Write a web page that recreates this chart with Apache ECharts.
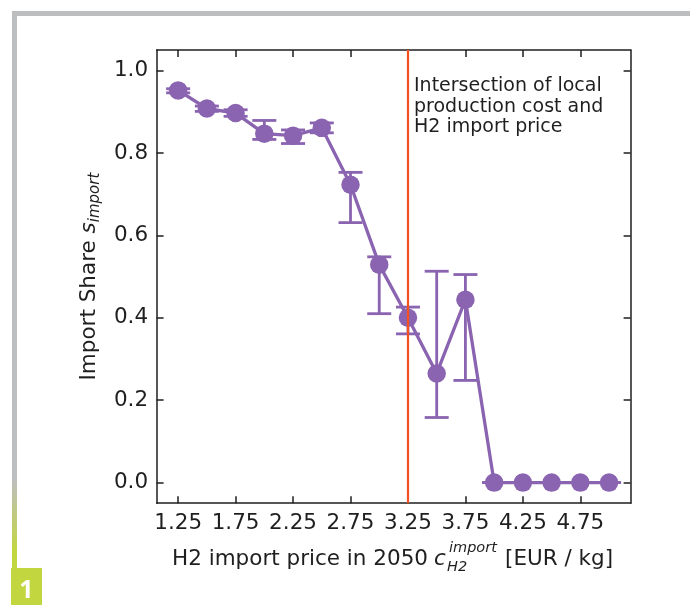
<!DOCTYPE html>
<html>
<head>
<meta charset="utf-8">
<script src="https://cdn.jsdelivr.net/npm/echarts@6/dist/echarts.min.js"></script>
<style>
html,body{margin:0;padding:0;background:#fff;}
#chart{width:690px;height:605px;}
</style>
</head>
<body>
<div id="chart"></div>
<script>
const xValues = [1.25, 1.5, 1.75, 2.0, 2.25, 2.5, 2.75, 3.0, 3.25, 3.5, 3.75, 4.0, 4.25, 4.5, 4.75, 5.0];
const shareValues = [0.952, 0.908, 0.897, 0.847, 0.842, 0.861, 0.723, 0.529, 0.400, 0.265, 0.444, 0, 0, 0, 0, 0];
const errLower = [0.946, 0.901, 0.889, 0.833, 0.823, 0.849, 0.631, 0.410, 0.361, 0.158, 0.248, 0, 0, 0, 0, 0];
const errUpper = [0.956, 0.914, 0.905, 0.879, 0.856, 0.873, 0.753, 0.548, 0.426, 0.513, 0.505, 0, 0, 0, 0, 0];
const xTickValues = [1.25, 1.75, 2.25, 2.75, 3.25, 3.75, 4.25, 4.75];
const yTickValues = [0.0, 0.2, 0.4, 0.6, 0.8, 1.0];
const intersectionPrice = 3.25;
const annotationText = 'Intersection of local\nproduction cost and\nH2 import price';

const PURPLE = '#8a64b0';
const RED = '#f4511e';
const INK = '#1f1f1f';
const FONT = 'DejaVu Sans';

const chart = echarts.init(document.getElementById('chart'), null, {renderer: 'canvas'});

const lineData = xValues.map((x, i) => [x, shareValues[i]]);
const errData = xValues.map((x, i) => [x, errLower[i], errUpper[i]]);

const xMin = 1.0625, xMax = 5.1875, yMin = -0.05, yMax = 1.05;

function axisCommon(showLabel, pos, ticks) {
  return {
    type: 'value', position: pos,
    axisLine: {show: true, onZero: false, lineStyle: {color: INK, width: 1.5}},
    axisTick: {show: true, inside: true, length: 7, lineStyle: {color: INK, width: 1.5}, customValues: ticks},
    splitLine: {show: false},
    axisLabel: {show: showLabel, customValues: ticks, color: INK, fontFamily: FONT, fontSize: 21.5}
  };
}

const xBottom = Object.assign(axisCommon(true, 'bottom', xTickValues), {min: xMin, max: xMax});
xBottom.axisLabel.margin = 9;
xBottom.axisLabel.formatter = v => v.toFixed(2);
const xTop = Object.assign(axisCommon(false, 'top', xTickValues), {min: xMin, max: xMax});
const yLeft = Object.assign(axisCommon(true, 'left', yTickValues), {min: yMin, max: yMax});
yLeft.axisLabel.margin = 8.5;
yLeft.axisLabel.formatter = v => v.toFixed(1);
yLeft.name = '{a|Import Share }{b|s}{c|import}';
yLeft.nameLocation = 'middle';
yLeft.nameGap = 53;
yLeft.nameTextStyle = {
  color: INK,
  rich: {
    a: {fontFamily: FONT, fontSize: 21.5, color: INK, lineHeight: 28},
    b: {fontFamily: FONT, fontSize: 21.5, fontStyle: 'italic', color: INK, lineHeight: 28},
    c: {fontFamily: FONT, fontSize: 15, fontStyle: 'italic', color: INK, verticalAlign: 'bottom', lineHeight: 15}
  }
};
const yRight = Object.assign(axisCommon(false, 'right', yTickValues), {min: yMin, max: yMax});

const option = {
  animation: false,
  backgroundColor: '#ffffff',
  grid: {left: 156.6, top: 50, width: 474, height: 453.2, containLabel: false},
  xAxis: [xBottom, xTop],
  yAxis: [yLeft, yRight],
  series: [
    {
      type: 'line', data: [], z: 1, silent: true,
      markLine: {
        symbol: 'none', silent: true, animation: false,
        label: {show: false},
        lineStyle: {color: RED, width: 2.2, type: 'solid'},
        data: [{xAxis: intersectionPrice}]
      }
    },
    {
      type: 'custom', z: 2, silent: true,
      data: errData,
      encode: {x: 0, y: [1, 2]},
      renderItem: function (params, api) {
        const x = api.value(0), lo = api.value(1), hi = api.value(2);
        const pLo = api.coord([x, lo]);
        const pHi = api.coord([x, hi]);
        const w = 12;
        const st = {stroke: PURPLE, lineWidth: 2.8};
        return {
          type: 'group',
          children: [
            {type: 'line', shape: {x1: pLo[0], y1: pLo[1], x2: pHi[0], y2: pHi[1]}, style: st},
            {type: 'line', shape: {x1: pLo[0] - w, y1: pLo[1], x2: pLo[0] + w, y2: pLo[1]}, style: st},
            {type: 'line', shape: {x1: pHi[0] - w, y1: pHi[1], x2: pHi[0] + w, y2: pHi[1]}, style: st}
          ]
        };
      }
    },
    {
      type: 'line', z: 3, silent: true,
      data: lineData,
      symbol: 'circle', symbolSize: 18.5,
      itemStyle: {color: PURPLE},
      lineStyle: {color: PURPLE, width: 3.3}
    }
  ],
  graphic: [
    {
      type: 'rect', silent: true,
      shape: {x: 12, y: 11, width: 678, height: 5},
      style: {fill: '#bdbec0'}
    },
    {
      type: 'rect', silent: true,
      shape: {x: 12, y: 11, width: 5, height: 557},
      style: {
        fill: new echarts.graphic.LinearGradient(0, 0, 0, 1, [
          {offset: 0, color: '#bdbec0'},
          {offset: 0.84, color: '#bdbec0'},
          {offset: 0.97, color: '#c2d63f'},
          {offset: 1, color: '#c2d63f'}
        ])
      }
    },
    {
      type: 'rect', silent: true,
      shape: {x: 11, y: 568, width: 31, height: 37},
      style: {fill: '#c2d63f'}
    },
    {
      type: 'text', silent: true,
      style: {x: 26.5, y: 591, text: '1', fill: '#ffffff', font: 'bold 25px "Open Sans"', align: 'center', verticalAlign: 'middle'}
    },
    {
      type: 'text', silent: true,
      style: {x: 414, y: 76, text: annotationText, fill: INK, font: '19px "DejaVu Sans"', lineHeight: 20.5, align: 'left', verticalAlign: 'top'}
    },
    {
      type: 'text', silent: true,
      style: {x: 172, y: 559.3, text: 'H2 import price in 2050', fill: INK, font: '21.5px "DejaVu Sans"', align: 'left', verticalAlign: 'middle'}
    },
    {
      type: 'text', silent: true,
      style: {x: 434, y: 559.3, text: 'c', fill: INK, font: 'italic 21.5px "DejaVu Sans"', align: 'left', verticalAlign: 'middle'}
    },
    {
      type: 'text', silent: true,
      style: {x: 449, y: 548.5, text: 'import', fill: INK, font: 'italic 14.5px "DejaVu Sans"', align: 'left', verticalAlign: 'middle'}
    },
    {
      type: 'text', silent: true,
      style: {x: 447, y: 567.4, text: 'H2', fill: INK, font: 'italic 14.5px "DejaVu Sans"', align: 'left', verticalAlign: 'middle'}
    },
    {
      type: 'text', silent: true,
      style: {x: 505, y: 559.3, text: '[EUR / kg]', fill: INK, font: '21.5px "DejaVu Sans"', align: 'left', verticalAlign: 'middle'}
    }
  ]
};
chart.setOption(option);
</script>
</body>
</html>
